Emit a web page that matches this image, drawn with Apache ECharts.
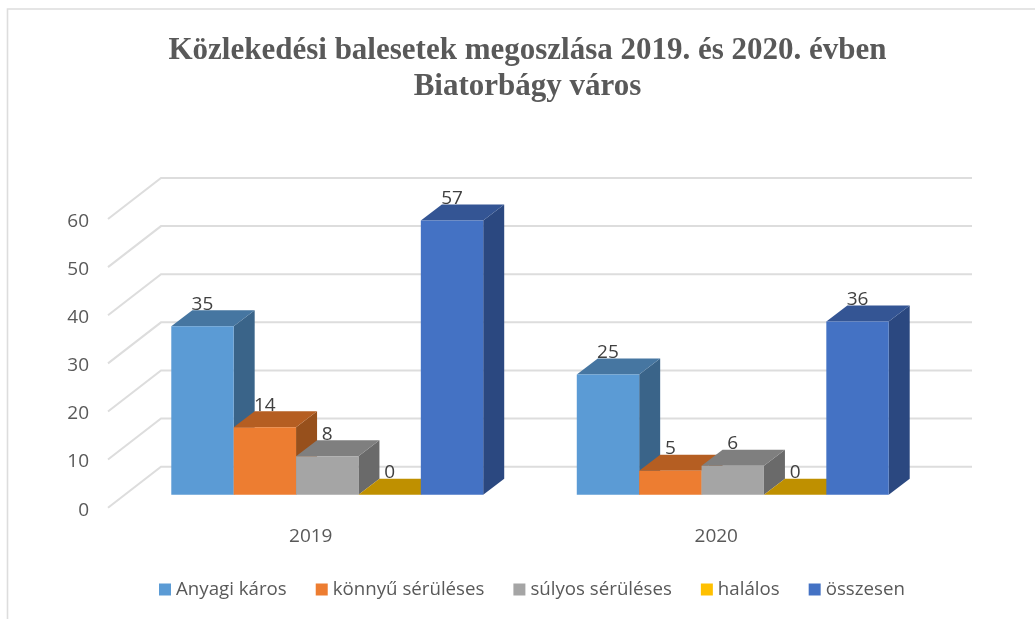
<!DOCTYPE html>
<html>
<head>
<meta charset="utf-8">
<title>Közlekedési balesetek</title>
<style>
  html, body { margin: 0; padding: 0; background: #fff; }
  #chart { width: 1035px; height: 619px; }
</style>
<script src="https://cdn.jsdelivr.net/npm/echarts@6/dist/echarts.min.js"></script>
</head>
<body>
<div id="chart"></div>
<script>
var years = ['2019', '2020'];
var yTicks = [0, 10, 20, 30, 40, 50, 60];
var anyagi = [35, 25];
var konnyu = [14, 5];
var sulyos = [8, 6];
var halalos = [0, 0];
var osszesen = [57, 36];

var names = ['Anyagi káros', 'könnyű sérüléses', 'súlyos sérüléses', 'halálos', 'összesen'];
var values = [anyagi, konnyu, sulyos, halalos, osszesen];
var faceColors = ['#5B9BD5', '#ED7D31', '#A5A5A5', '#FFC000', '#4472C4'];
var frontColors = ['#5B9BD5', '#ED7D31', '#A5A5A5', '#BF9000', '#4472C4'];
var topColors = ['#4676A1', '#B55E22', '#7F7F7F', '#BF9000', '#345594'];
var sideColors = ['#3A6489', '#97501C', '#6A6A6A', '#A07800', '#2B4880'];

// the fake 3d: floor goes back by wall*, bars stand a bit in and are bar* deep
var wallDx = 53, wallDy = -41;
var inDx = 16.5, inDy = -13;
var barDx = 21, barDy = -16;

function renderWall(params, api) {
  var sys = params.coordSys;
  var y = api.coord([0, api.value(1)])[1];
  var left = sys.x, right = sys.x + sys.width;
  return {
    type: 'polyline',
    silent: true,
    shape: { points: [[left, y], [left + wallDx, y + wallDy], [right + wallDx, y + wallDy]] },
    style: { fill: null, stroke: '#DDDDDD', lineWidth: 2 }
  };
}

function makeBarRenderer(s) {
  return function (params, api) {
    var band = api.size([1, 0])[0];
    var w = band / 6.5; // gap is 150% of one bar
    var top = api.coord([api.value(0), api.value(1)]);
    var base = api.coord([api.value(0), 0]);
    var x = top[0] - 2.5 * w + s * w + inDx;
    var y = top[1] + inDy;
    var y0 = base[1] + inDy;
    var x2 = x + w;
    var kids = [];
    kids.push({
      type: 'polygon',
      shape: { points: [[x2, y], [x2 + barDx, y + barDy], [x2 + barDx, y0 + barDy], [x2, y0]] },
      style: { fill: sideColors[s] }
    });
    kids.push({
      type: 'polygon',
      shape: { points: [[x, y], [x + barDx, y + barDy], [x2 + barDx, y + barDy], [x2, y]] },
      style: { fill: topColors[s] }
    });
    if (api.value(1) > 0) {
      kids.push({
        type: 'rect',
        shape: { x: x, y: y, width: w, height: y0 - y },
        style: { fill: frontColors[s] }
      });
    }
    kids.push({
      type: 'text',
      z2: 50,
      style: {
        text: String(api.value(1)),
        x: x + w / 2,
        y: y + barDy - 6,
        align: 'center',
        verticalAlign: 'middle',
        fill: '#404040',
        font: '19px "Open Sans"'
      }
    });
    return { type: 'group', children: kids };
  };
}

var series = [{
  type: 'custom',
  name: 'wall',
  z: 1,
  silent: true,
  data: yTicks.map(function (t) { return [0, t]; }),
  encode: { x: 0, y: 1 },
  renderItem: renderWall
}];
names.forEach(function (name, s) {
  series.push({
    type: 'custom',
    name: name,
    z: 2 + s,
    itemStyle: { color: faceColors[s] },
    data: values[s].map(function (v, i) { return [i, v]; }),
    encode: { x: 0, y: 1 },
    renderItem: makeBarRenderer(s)
  });
});

var chart = echarts.init(document.getElementById('chart'));
chart.setOption({
  animation: false,
  backgroundColor: '#fff',
  title: {
    text: 'Közlekedési balesetek megoszlása 2019. és 2020. évben\nBiatorbágy város',
    left: 522.5,
    top: 28,
    textAlign: 'center',
    textStyle: {
      fontFamily: '"Liberation Serif"',
      fontWeight: 'bold',
      fontSize: 31,
      lineHeight: 36,
      color: '#595959'
    }
  },
  legend: {
    data: names,
    left: 154,
    top: 575,
    icon: 'rect',
    itemWidth: 12,
    itemHeight: 12,
    itemGap: 29,
    textStyle: { fontFamily: '"Open Sans"', fontSize: 18.7, color: '#595959' }
  },
  grid: { left: 108, right: 116, top: 219, bottom: 111.3 },
  xAxis: {
    type: 'category',
    data: years,
    axisLine: { show: false },
    axisTick: { show: false },
    axisLabel: { margin: 19, fontFamily: '"Open Sans"', fontSize: 19, color: '#595959' }
  },
  yAxis: {
    type: 'value',
    min: 0,
    max: 60,
    interval: 10,
    axisLine: { show: false },
    axisTick: { show: false },
    splitLine: { show: false },
    axisLabel: { margin: 19, verticalAlign: 'top', padding: [-7, 0, 0, 0], fontFamily: '"Open Sans"', fontSize: 19, color: '#595959' }
  },
  graphic: [{
    type: 'polyline',
    silent: true,
    shape: { points: [[7.5, 619], [7.5, 9], [1035, 9]] },
    style: { fill: null, stroke: '#DDDDDD', lineWidth: 1.6 }
  }],
  series: series
});
</script>
</body>
</html>
